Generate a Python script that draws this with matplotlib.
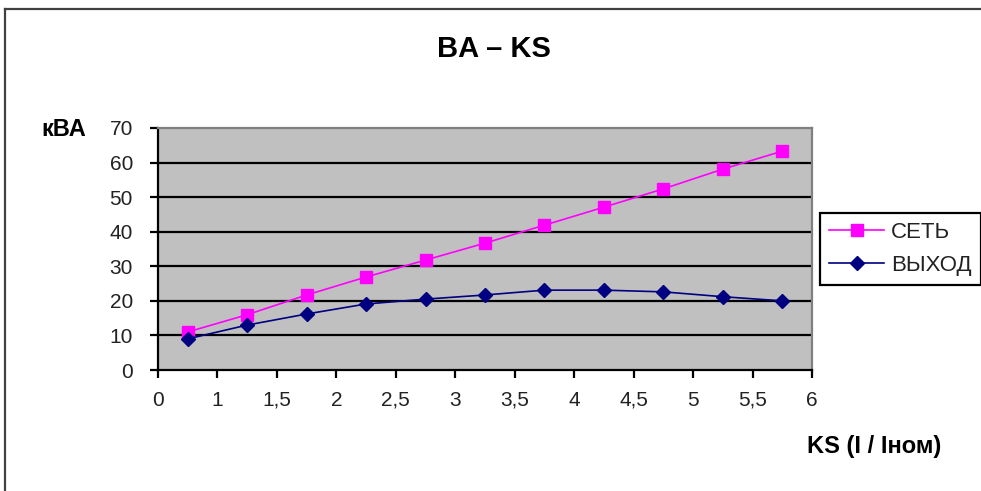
import matplotlib
matplotlib.use("Agg")
import matplotlib.pyplot as plt
from matplotlib.lines import Line2D
import numpy as np

plt.rcParams['font.family'] = ['Liberation Sans', 'DejaVu Sans']

x_tick_labels = ["0", "1", "1,5", "2", "2,5", "3", "3,5", "4", "4,5", "5", "5,5", "6"]
seti = [11, 16, 21.7, 26.9, 31.8, 36.7, 41.9, 47.1, 52.4, 58.1, 63.3]
vykhod = [9, 13, 16.2, 19.1, 20.5, 21.7, 23.1, 23.1, 22.6, 21.2, 20]
y_ticks = [0, 10, 20, 30, 40, 50, 60, 70]
series_names = ["СЕТЬ", "ВЫХОД"]

W, H = 981, 491
fig = plt.figure(figsize=(W / 100, H / 100), dpi=100)
fig.patch.set_facecolor("white")

ax = fig.add_axes([158 / W, 1 - 370 / H, (812 - 158) / W, (370 - 128) / H])
ax.set_facecolor("#C0C0C0")

xpos = np.arange(len(seti)) + 0.5
l1, = ax.plot(xpos, seti, color="#FF00FF", lw=1.2, marker="s", ms=9,
              mfc="#FF00FF", mec="#FF00FF", zorder=4)
l2, = ax.plot(xpos, vykhod, color="#000080", lw=1.2, marker="D", ms=7,
              mfc="#000080", mec="#000080", zorder=4)

ax.set_xlim(0, len(seti))
ax.set_ylim(0, 70)
ax.set_xticks(np.arange(len(x_tick_labels)))
ax.set_xticklabels(x_tick_labels)
ax.set_yticks(y_ticks)
ax.set_yticklabels([str(v) for v in y_ticks])

for v in y_ticks[1:-1]:
    ax.axhline(v, color="black", lw=1.6, zorder=2)

for s in ["left", "bottom"]:
    ax.spines[s].set_color("black")
    ax.spines[s].set_linewidth(1.6)
for s in ["top", "right"]:
    ax.spines[s].set_color("#808080")
    ax.spines[s].set_linewidth(1.6)

ax.tick_params(axis="y", direction="out", length=6, width=1.6, pad=12,
               labelsize=15, colors="black")
ax.tick_params(axis="x", direction="out", length=6, width=1.6, pad=9,
               labelsize=15, colors="black")
for t in ax.get_xticklabels() + ax.get_yticklabels():
    t.set_color("#222222")

fig.text(494 / W, 1 - 49 / H, "BA – KS", ha="center", va="center",
         fontsize=21, fontweight="bold")
fig.text(64 / W, 1 - 129 / H, "кВА", ha="center", va="center",
         fontsize=17, fontweight="bold")
fig.text(874 / W, 1 - 446 / H, "KS (I / Iном)", ha="center", va="center",
         fontsize=17, fontweight="bold")

leg = fig.legend([l1, l2], series_names, loc="center left",
                 bbox_to_anchor=(820 / W, 1 - 249 / H), fontsize=16,
                 frameon=True, fancybox=False, framealpha=1,
                 edgecolor="black", handlelength=2.5, handletextpad=0.3,
                 borderpad=0.4, labelspacing=0.55, borderaxespad=0)
leg.get_frame().set_linewidth(1.6)
for t in leg.get_texts():
    t.set_color("#222222")

# outer chart border (left and top visible)
fig.add_artist(Line2D([5 / W, 5 / W], [0, 1 - 9 / H], transform=fig.transFigure,
                      color="#404040", lw=1.6))
fig.add_artist(Line2D([5 / W, 1], [1 - 9 / H, 1 - 9 / H], transform=fig.transFigure,
                      color="#404040", lw=1.6))

fig.savefig("out.png", dpi=100)
